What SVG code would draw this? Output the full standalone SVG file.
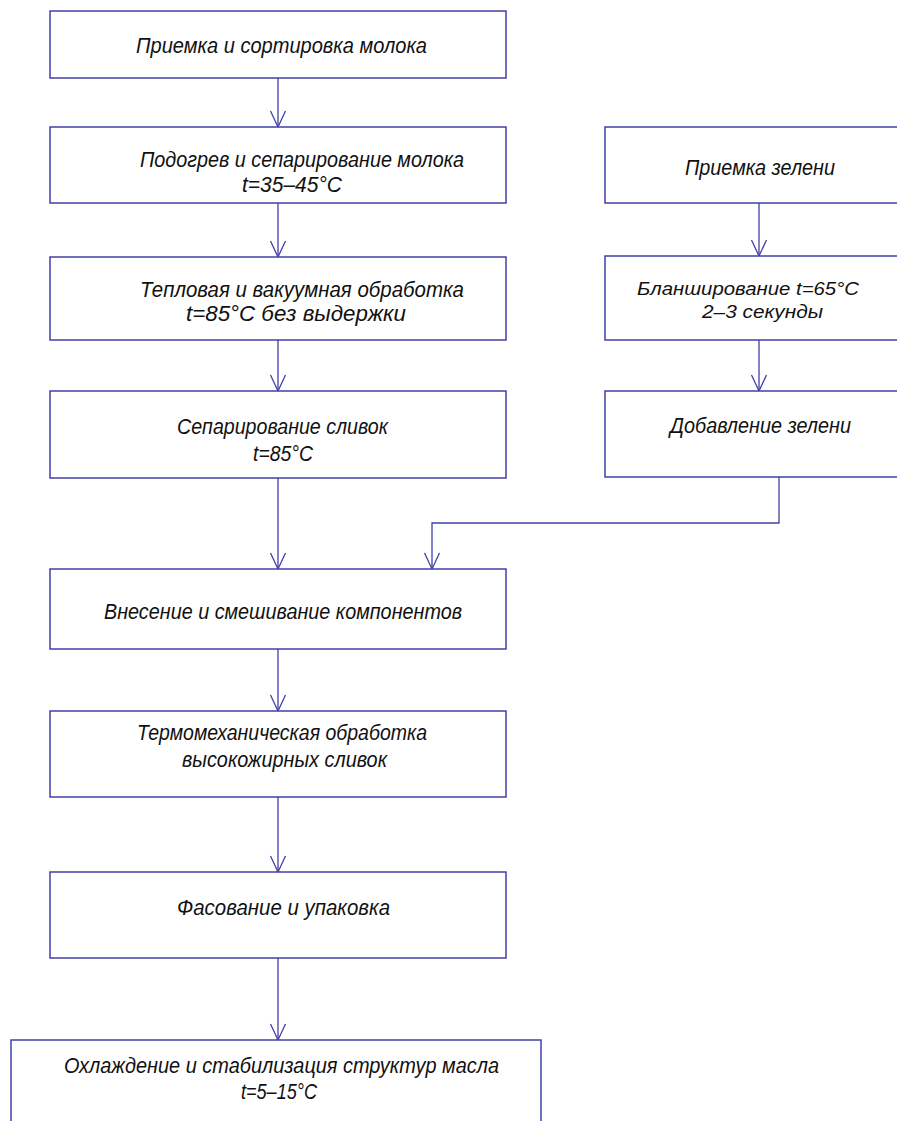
<svg xmlns="http://www.w3.org/2000/svg" width="897" height="1121" viewBox="0 0 897 1121">
<defs>
<style>
.box{fill:#ffffff;stroke:#4040a8;stroke-width:1.5}
.ln{fill:none;stroke:#4040a8;stroke-width:1.3}
.t{font-family:"Liberation Sans",Arial,sans-serif;font-style:italic;font-size:22px;fill:#111111}
.s{font-size:18px}
</style>
<marker id="ah" markerUnits="userSpaceOnUse" markerWidth="20" markerHeight="20" viewBox="-18 -10 20 20" refX="0" refY="0" orient="auto">
<path d="M-16,-7.5 L0,0 L-16,7.5" fill="none" stroke="#4040a8" stroke-width="1.3"/>
</marker>
</defs>
<rect width="897" height="1121" fill="#ffffff"/>
<g id="connectors">
<path class="ln" d="M278,78 V127" marker-end="url(#ah)"/>
<path class="ln" d="M278,203 V257" marker-end="url(#ah)"/>
<path class="ln" d="M278,340 V391" marker-end="url(#ah)"/>
<path class="ln" d="M278,478 V569" marker-end="url(#ah)"/>
<path class="ln" d="M779,477 V523 H432 V569" marker-end="url(#ah)"/>
<path class="ln" d="M278,649 V711" marker-end="url(#ah)"/>
<path class="ln" d="M278,797 V872" marker-end="url(#ah)"/>
<path class="ln" d="M278,958 V1040" marker-end="url(#ah)"/>
<path class="ln" d="M759,203 V256" marker-end="url(#ah)"/>
<path class="ln" d="M759,340 V391" marker-end="url(#ah)"/>
</g>
<g id="n1">
<rect class="box" x="50" y="11" width="456" height="67"/>
<text class="t" x="136" y="53" textLength="291" lengthAdjust="spacingAndGlyphs">Приемка и сортировка молока</text>
</g>
<g id="n2">
<rect class="box" x="50" y="127" width="456" height="76"/>
<text class="t" x="140" y="167" textLength="324" lengthAdjust="spacingAndGlyphs">Подогрев и сепарирование молока</text>
<text class="t" x="242" y="192" textLength="100" lengthAdjust="spacingAndGlyphs">t=35–45°C</text>
</g>
<g id="n3">
<rect class="box" x="50" y="257" width="456" height="83"/>
<text class="t" x="140" y="297" textLength="324" lengthAdjust="spacingAndGlyphs">Тепловая и вакуумная обработка</text>
<text class="t" x="186" y="321" textLength="220" lengthAdjust="spacingAndGlyphs">t=85°C без выдержки</text>
</g>
<g id="n4">
<rect class="box" x="50" y="391" width="456" height="87"/>
<text class="t" x="177" y="434" textLength="211" lengthAdjust="spacingAndGlyphs">Сепарирование сливок</text>
<text class="t" x="253" y="461" textLength="60" lengthAdjust="spacingAndGlyphs">t=85°C</text>
</g>
<g id="n5">
<rect class="box" x="50" y="569" width="456" height="80"/>
<text class="t" x="104" y="619" textLength="358" lengthAdjust="spacingAndGlyphs">Внесение и смешивание компонентов</text>
</g>
<g id="n6">
<rect class="box" x="50" y="711" width="456" height="86"/>
<text class="t" x="137" y="740" textLength="290" lengthAdjust="spacingAndGlyphs">Термомеханическая обработка</text>
<text class="t" x="182" y="767" textLength="205" lengthAdjust="spacingAndGlyphs">высокожирных сливок</text>
</g>
<g id="n7">
<rect class="box" x="50" y="872" width="456" height="86"/>
<text class="t" x="177" y="915" textLength="213" lengthAdjust="spacingAndGlyphs">Фасование и упаковка</text>
</g>
<g id="n8">
<rect class="box" x="11" y="1040" width="530" height="90"/>
<text class="t" x="64" y="1073" textLength="435" lengthAdjust="spacingAndGlyphs">Охлаждение и стабилизация структур масла</text>
<text class="t" x="241" y="1099" textLength="76" lengthAdjust="spacingAndGlyphs">t=5–15°C</text>
</g>
<g id="r1">
<rect class="box" x="605" y="127" width="310" height="76"/>
<text class="t" x="685" y="175" textLength="150" lengthAdjust="spacingAndGlyphs">Приемка зелени</text>
</g>
<g id="r2">
<rect class="box" x="605" y="256" width="310" height="84"/>
<text class="t s" x="637" y="295" textLength="222" lengthAdjust="spacingAndGlyphs">Бланширование t=65°C</text>
<text class="t s" x="702" y="318" textLength="121" lengthAdjust="spacingAndGlyphs">2–3 секунды</text>
</g>
<g id="r3">
<rect class="box" x="605" y="391" width="310" height="86"/>
<text class="t" x="670" y="433" textLength="181" lengthAdjust="spacingAndGlyphs">Добавление зелени</text>
</g>
</svg>
